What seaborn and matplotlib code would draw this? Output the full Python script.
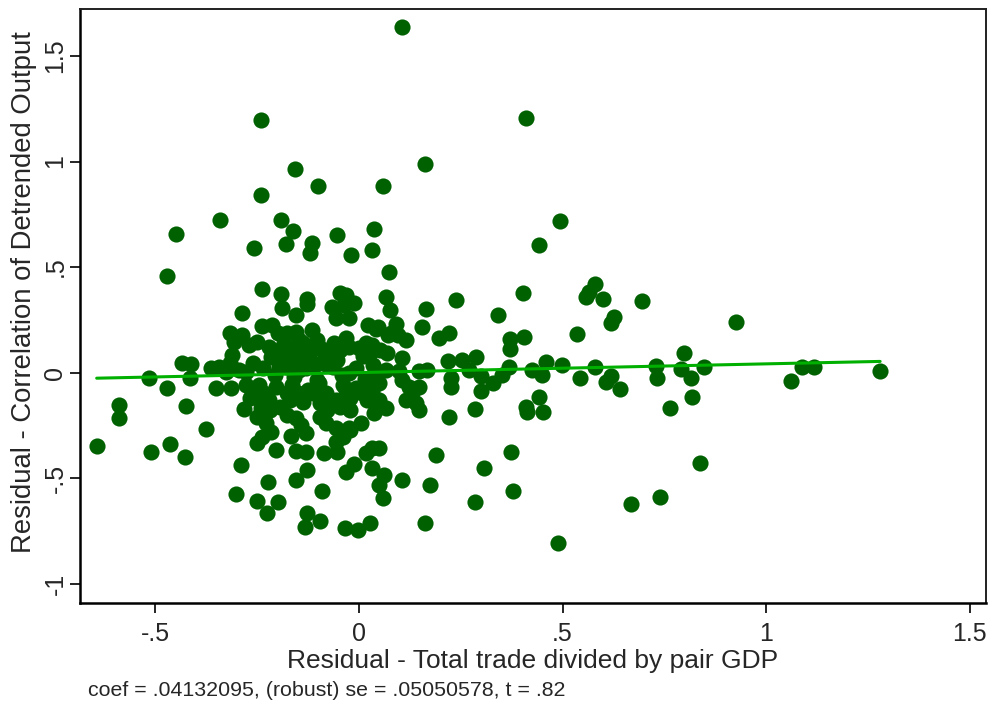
import numpy as np
import pandas as pd
import matplotlib
matplotlib.use("Agg")
import matplotlib.pyplot as plt
import seaborn as sns

# Added-variable plot: residual output correlation vs residual trade intensity
coef = 0.04132095
se = 0.05050578
tstat = 0.82

# (x residual, y residual) pairs, outlying observations
outer_points = [
    (-0.241, 1.197), (-0.157, 0.964), (-0.101, 0.884), (-0.241, 0.841), (0.058, 0.884),
    (-0.342, 0.723), (-0.192, 0.723), (-0.162, 0.671), (-0.450, 0.656), (-0.054, 0.652),
    (0.037, 0.680), (-0.258, 0.590), (-0.179, 0.609), (-0.115, 0.614), (-0.120, 0.567),
    (-0.020, 0.557), (0.032, 0.581), (-0.472, 0.457), (-0.238, 0.396), (-0.192, 0.372),
    (-0.128, 0.348), (-0.047, 0.377), (-0.032, 0.367), (0.106, 1.637), (0.410, 1.206),
    (0.162, 0.987), (0.494, 0.717), (0.442, 0.604), (0.074, 0.476), (0.066, 0.358),
    (0.238, 0.344), (0.403, 0.377), (0.580, 0.419), (0.565, 0.382), (0.558, 0.358),
    (0.600, 0.350), (0.695, 0.340), (0.076, 0.296), (0.165, 0.300), (0.342, 0.272),
    (0.627, 0.263), (0.619, 0.235), (0.536, 0.182), (0.405, 0.168), (0.371, 0.158),
    (0.371, 0.111), (0.155, 0.215), (0.091, 0.230), (0.079, 0.187), (0.115, 0.154),
    (0.197, 0.163), (0.221, 0.187), (0.106, 0.069), (0.219, 0.055), (0.253, 0.059),
    (0.287, 0.074), (0.270, 0.012), (0.147, 0.007), (0.167, 0.012), (0.098, 0.007),
    (0.300, -0.017), (0.329, -0.050), (0.369, 0.026), (0.351, -0.012), (0.425, 0.012),
    (0.450, -0.012), (0.460, 0.050), (0.499, 0.036), (0.543, -0.026), (0.580, 0.026),
    (0.607, -0.045), (0.619, -0.017), (0.641, -0.078), (0.730, 0.031), (0.732, -0.026),
    (0.764, -0.168), (0.798, 0.093), (0.791, 0.017), (0.226, -0.026), (0.226, -0.070),
    (0.300, -0.087), (0.285, -0.172), (0.221, -0.211), (0.410, -0.162), (0.412, -0.187),
    (0.442, -0.114), (0.452, -0.187), (0.050, -0.357), (0.189, -0.390), (0.373, -0.377),
    (0.307, -0.453), (0.061, -0.486), (0.049, -0.533), (0.059, -0.595), (0.106, -0.509),
    (0.174, -0.533), (0.378, -0.561), (0.285, -0.614), (0.162, -0.713), (0.489, -0.808),
    (0.668, -0.623), (0.740, -0.590), (0.926, 0.239), (0.848, 0.026), (0.816, -0.026),
    (0.818, -0.114), (0.838, -0.427), (1.061, -0.040), (1.088, 0.026), (1.118, 0.026),
    (1.280, 0.007), (-0.644, -0.348), (-0.590, -0.155), (-0.590, -0.216), (-0.516, -0.026),
    (-0.511, -0.377), (-0.472, -0.073), (-0.464, -0.339), (-0.428, -0.400), (-0.425, -0.159),
    (-0.435, 0.045), (-0.413, 0.040), (-0.415, -0.026), (-0.376, -0.268), (-0.364, 0.021),
    (-0.344, 0.026), (-0.351, -0.073), (-0.314, -0.073), (-0.317, 0.187), (-0.287, 0.282),
    (-0.287, 0.178), (-0.270, 0.130), (-0.307, 0.145), (-0.312, 0.083), (-0.283, -0.173),
    (-0.290, -0.439), (-0.302, -0.576), (-0.251, -0.334), (-0.224, -0.519), (-0.251, -0.609),
    (-0.226, -0.666), (-0.199, -0.614), (-0.204, -0.367), (-0.167, -0.300), (-0.155, -0.372),
    (-0.130, -0.377), (-0.155, -0.509), (-0.128, -0.462), (-0.128, -0.666), (-0.133, -0.730),
    (-0.096, -0.704), (-0.091, -0.561), (-0.032, -0.472), (-0.012, -0.434), (-0.034, -0.737),
    (-0.002, -0.746), (0.027, -0.713),
]

# (x residual, y residual) pairs, central cluster
core_points = [
    (-0.189, 0.306), (-0.155, 0.273), (-0.128, 0.325), (-0.238, 0.220), (-0.214, 0.225),
    (-0.199, 0.187), (-0.177, 0.187), (-0.155, 0.192), (-0.147, 0.154), (-0.115, 0.201),
    (-0.103, 0.154), (-0.111, 0.116), (-0.138, 0.140), (-0.221, 0.121), (-0.197, 0.107),
    (-0.179, 0.083), (-0.165, 0.107), (-0.147, 0.073), (-0.123, 0.083), (-0.251, 0.145),
    (-0.103, 0.040), (-0.061, 0.140), (-0.057, 0.092), (-0.032, 0.163), (-0.025, 0.121),
    (0.000, 0.116), (0.017, 0.140), (0.032, 0.130), (0.042, 0.206), (0.022, 0.225),
    (-0.066, 0.310), (-0.037, 0.320), (-0.012, 0.329), (-0.057, 0.258), (-0.025, 0.258),
    (0.047, 0.216), (0.071, 0.178), (0.096, 0.178), (-0.047, 0.107), (0.027, 0.092),
    (0.052, 0.107), (0.069, 0.092), (0.010, 0.078), (0.034, 0.036), (-0.071, 0.092),
    (-0.054, 0.059), (-0.064, 0.026), (-0.194, 0.059), (-0.177, 0.026), (-0.260, 0.045),
    (-0.236, 0.021), (-0.197, 0.026), (-0.147, 0.012), (-0.327, 0.002), (-0.295, 0.012),
    (-0.278, 0.002), (-0.317, 0.045), (-0.152, 0.045), (-0.113, 0.036), (-0.079, 0.036),
    (-0.042, -0.012), (-0.007, 0.021), (0.042, -0.021), (-0.103, -0.036), (0.066, 0.012),
    (0.015, -0.030), (-0.025, 0.000), (-0.185, 0.140), (-0.130, 0.020), (-0.090, 0.110),
    (-0.205, -0.010), (-0.160, -0.020), (-0.215, 0.075), (-0.085, 0.060), (-0.135, 0.105),
    (-0.278, -0.059), (-0.263, -0.083), (-0.246, -0.059), (-0.233, -0.097), (-0.221, -0.130),
    (-0.268, -0.121), (-0.204, -0.069), (-0.177, -0.097), (-0.165, -0.059), (-0.150, -0.097),
    (-0.125, -0.083), (-0.098, -0.050), (-0.170, -0.130), (-0.194, -0.164), (-0.219, -0.178),
    (-0.138, -0.140), (-0.113, -0.097), (-0.096, -0.145), (-0.074, -0.140), (-0.081, -0.097),
    (-0.057, -0.130), (-0.032, -0.083), (-0.007, -0.073), (0.007, -0.097), (0.032, -0.097),
    (0.049, -0.130), (-0.039, -0.059), (-0.022, -0.121), (0.020, -0.130), (-0.241, -0.168),
    (-0.229, -0.239), (-0.216, -0.282), (-0.238, -0.306), (-0.177, -0.201), (-0.155, -0.216),
    (-0.143, -0.249), (-0.130, -0.287), (-0.081, -0.239), (-0.057, -0.263), (-0.025, -0.263),
    (0.005, -0.239), (-0.086, -0.382), (-0.054, -0.377), (-0.057, -0.329), (0.017, -0.382),
    (0.032, -0.358), (0.032, -0.453), (0.037, -0.192), (0.044, -0.164), (0.049, -0.050),
    (0.066, -0.168), (0.106, -0.036), (0.123, -0.069), (0.130, -0.097), (0.147, -0.069),
    (0.115, -0.130), (0.140, -0.145), (0.147, -0.178), (0.034, -0.069), (-0.022, -0.273),
    (-0.039, -0.306), (-0.096, -0.211), (-0.079, -0.178), (-0.047, -0.164), (-0.022, -0.178),
    (-0.251, -0.211), (-0.243, -0.130),
]

x_ticks = [-0.5, 0, 0.5, 1, 1.5]
x_tick_labels = ["-.5", "0", ".5", "1", "1.5"]
y_ticks = [-1, -0.5, 0, 0.5, 1, 1.5]
y_tick_labels = ["-1", "-.5", "0", ".5", "1", "1.5"]

x_title = "Residual - Total trade divided by pair GDP"
y_title = "Residual - Correlation of Detrended Output"
note = "coef = .04132095, (robust) se = .05050578, t = .82"

dot_color = "#006100"
fit_color = "#00b000"

sns.set_theme(style="white")
plt.rcParams["font.family"] = ["Liberation Sans", "DejaVu Sans"]

pts = pd.DataFrame(outer_points + core_points, columns=["x", "y"])

fig = plt.figure(figsize=(9.95, 7.04), dpi=100)
ax = fig.add_axes([80 / 995, 1 - 603 / 704, 906 / 995, 594 / 704])

sns.scatterplot(data=pts, x="x", y="y", ax=ax, s=135, color=dot_color,
                linewidth=0, alpha=1.0, zorder=2, legend=False)

# fitted line from the partial regression coefficient
fit_x = np.linspace(pts["x"].min(), pts["x"].max(), 40)
fit = pd.DataFrame({"x": fit_x, "y": coef * fit_x})
sns.lineplot(data=fit, x="x", y="y", ax=ax, color=fit_color, linewidth=2.2,
             zorder=3, legend=False)

ax.set_xlim(-0.685, 1.54)
ax.set_ylim(-1.092, 1.723)
ax.set_xticks(x_ticks)
ax.set_xticklabels(x_tick_labels, fontsize=18)
ax.set_yticks(y_ticks)
ax.set_yticklabels(y_tick_labels, fontsize=18, rotation=90, va="center")
ax.tick_params(axis="x", which="major", direction="out", length=7, width=1.2,
               color="black", bottom=True, pad=7)
ax.tick_params(axis="y", which="major", direction="out", length=7, width=1.2,
               color="black", left=True, pad=2)

ax.set_xlabel(x_title, fontsize=19)
ax.set_ylabel(y_title, fontsize=19.8)
ax.xaxis.set_label_coords(0.5, -0.078)
ax.yaxis.set_label_coords(-0.047, 0.523)

for side in ["left", "bottom"]:
    ax.spines[side].set_color("black")
    ax.spines[side].set_linewidth(1.8)
for side in ["top", "right"]:
    ax.spines[side].set_color("#202020")
    ax.spines[side].set_linewidth(1.4)

fig.text(88 / 995, 1 - 690 / 704, note, fontsize=15.4, va="center", ha="left")

fig.savefig("out.png", dpi=100, facecolor="white")
